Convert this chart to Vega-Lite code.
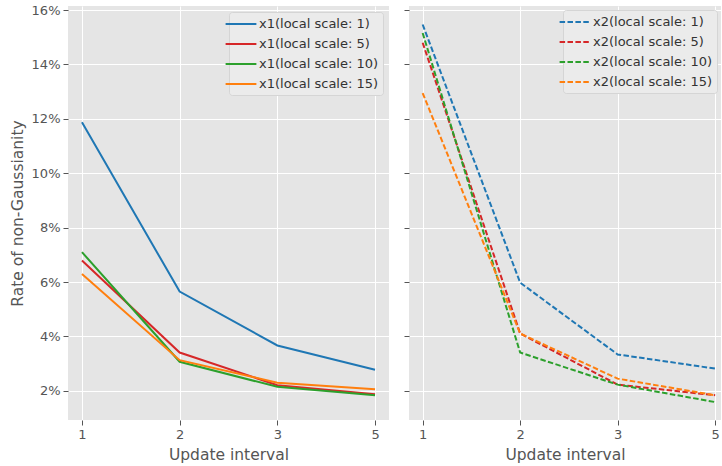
{
  "$schema": "https://vega.github.io/schema/vega-lite/v6.json",
  "padding": {"left": 10, "top": 4, "right": 0, "bottom": 0},
  "background": "white",
  "datasets": {
    "d": [
      {"var": "x1", "series": "x1(local scale: 1)", "interval": 1, "rate": 0.1188},
      {"var": "x1", "series": "x1(local scale: 1)", "interval": 2, "rate": 0.0565},
      {"var": "x1", "series": "x1(local scale: 1)", "interval": 3, "rate": 0.0367},
      {"var": "x1", "series": "x1(local scale: 1)", "interval": 5, "rate": 0.0278},
      {"var": "x1", "series": "x1(local scale: 5)", "interval": 1, "rate": 0.0679},
      {"var": "x1", "series": "x1(local scale: 5)", "interval": 2, "rate": 0.0341},
      {"var": "x1", "series": "x1(local scale: 5)", "interval": 3, "rate": 0.0221},
      {"var": "x1", "series": "x1(local scale: 5)", "interval": 5, "rate": 0.0188},
      {"var": "x1", "series": "x1(local scale: 10)", "interval": 1, "rate": 0.071},
      {"var": "x1", "series": "x1(local scale: 10)", "interval": 2, "rate": 0.0307},
      {"var": "x1", "series": "x1(local scale: 10)", "interval": 3, "rate": 0.0215},
      {"var": "x1", "series": "x1(local scale: 10)", "interval": 5, "rate": 0.0184},
      {"var": "x1", "series": "x1(local scale: 15)", "interval": 1, "rate": 0.063},
      {"var": "x1", "series": "x1(local scale: 15)", "interval": 2, "rate": 0.0313},
      {"var": "x1", "series": "x1(local scale: 15)", "interval": 3, "rate": 0.023},
      {"var": "x1", "series": "x1(local scale: 15)", "interval": 5, "rate": 0.0206},
      {"var": "x2", "series": "x2(local scale: 1)", "interval": 1, "rate": 0.1547},
      {"var": "x2", "series": "x2(local scale: 1)", "interval": 2, "rate": 0.0598},
      {"var": "x2", "series": "x2(local scale: 1)", "interval": 3, "rate": 0.0334},
      {"var": "x2", "series": "x2(local scale: 1)", "interval": 5, "rate": 0.0282},
      {"var": "x2", "series": "x2(local scale: 5)", "interval": 1, "rate": 0.148},
      {"var": "x2", "series": "x2(local scale: 5)", "interval": 2, "rate": 0.0411},
      {"var": "x2", "series": "x2(local scale: 5)", "interval": 3, "rate": 0.0223},
      {"var": "x2", "series": "x2(local scale: 5)", "interval": 5, "rate": 0.0184},
      {"var": "x2", "series": "x2(local scale: 10)", "interval": 1, "rate": 0.1516},
      {"var": "x2", "series": "x2(local scale: 10)", "interval": 2, "rate": 0.0341},
      {"var": "x2", "series": "x2(local scale: 10)", "interval": 3, "rate": 0.0223},
      {"var": "x2", "series": "x2(local scale: 10)", "interval": 5, "rate": 0.0159},
      {"var": "x2", "series": "x2(local scale: 15)", "interval": 1, "rate": 0.1295},
      {"var": "x2", "series": "x2(local scale: 15)", "interval": 2, "rate": 0.0411},
      {"var": "x2", "series": "x2(local scale: 15)", "interval": 3, "rate": 0.0245},
      {"var": "x2", "series": "x2(local scale: 15)", "interval": 5, "rate": 0.0184}
    ]
  },
  "config": {
    "font": "DejaVu Sans",
    "view": {"fill": "#E5E5E5", "stroke": null},
    "axis": {
      "gridColor": "white",
      "gridWidth": 1,
      "gridOpacity": 1,
      "domain": false,
      "tickColor": "#555555",
      "tickSize": 5,
      "tickWidth": 1,
      "labelColor": "#555555",
      "labelFontSize": 13,
      "labelPadding": 3,
      "titleColor": "#555555",
      "titleFontSize": 15.5,
      "titleFontWeight": "normal",
      "titlePadding": 6
    },
    "legend": {
      "orient": "top-right",
      "offset": 6,
      "title": null,
      "fillColor": "#EBEBEB",
      "strokeColor": "#D5D5D5",
      "cornerRadius": 3,
      "padding": 4,
      "symbolType": "M-2.2,0H2.2",
      "symbolSize": 196,
      "symbolStrokeWidth": 2,
      "symbolOpacity": 1,
      "labelFontSize": 13,
      "labelColor": "#333333",
      "labelOffset": 10,
      "rowPadding": 5
    }
  },
  "spacing": 20,
  "bounds": "flush",
  "hconcat": [
    {
      "width": 321,
      "height": 414,
      "data": {"name": "d"},
      "transform": [{"filter": "datum.var == 'x1'"}],
      "mark": {"type": "line", "strokeWidth": 2},
      "encoding": {
        "x": {
          "field": "interval",
          "type": "ordinal",
          "scale": {"type": "point", "padding": 0.143},
          "axis": {"title": "Update interval", "labelAngle": 0, "grid": true}
        },
        "y": {
          "field": "rate",
          "type": "quantitative",
          "scale": {"domain": [0.0093, 0.1615], "nice": false, "zero": false},
          "axis": {
            "title": "Rate of non-Gaussianity",
            "values": [0.02, 0.04, 0.06, 0.08, 0.1, 0.12, 0.14, 0.16],
            "format": ".0%"
          }
        },
        "color": {
          "field": "series",
          "type": "nominal",
          "scale": {
            "domain": ["x1(local scale: 1)", "x1(local scale: 5)", "x1(local scale: 10)", "x1(local scale: 15)"],
            "range": ["#1f77b4", "#d62728", "#2ca02c", "#ff7f0e"]
          },
          "legend": {}
        }
      }
    },
    {
      "width": 312,
      "height": 414,
      "data": {"name": "d"},
      "transform": [{"filter": "datum.var == 'x2'"}],
      "mark": {"type": "line", "strokeWidth": 2, "strokeDash": [5.5, 2.4]},
      "encoding": {
        "x": {
          "field": "interval",
          "type": "ordinal",
          "scale": {"type": "point", "padding": 0.1, "align": 0.7},
          "axis": {"title": "Update interval", "labelAngle": 0, "grid": true}
        },
        "y": {
          "field": "rate",
          "type": "quantitative",
          "scale": {"domain": [0.0093, 0.1615], "nice": false, "zero": false},
          "axis": {
            "title": null,
            "labels": false,
            "values": [0.02, 0.04, 0.06, 0.08, 0.1, 0.12, 0.14, 0.16]
          }
        },
        "color": {
          "field": "series",
          "type": "nominal",
          "scale": {
            "domain": ["x2(local scale: 1)", "x2(local scale: 5)", "x2(local scale: 10)", "x2(local scale: 15)"],
            "range": ["#1f77b4", "#d62728", "#2ca02c", "#ff7f0e"]
          },
          "legend": {"symbolDash": [5.5, 2.4], "offset": 4}
        }
      }
    }
  ],
  "resolve": {
    "scale": {"color": "independent", "x": "independent", "y": "independent"},
    "legend": {"color": "independent"}
  }
}
